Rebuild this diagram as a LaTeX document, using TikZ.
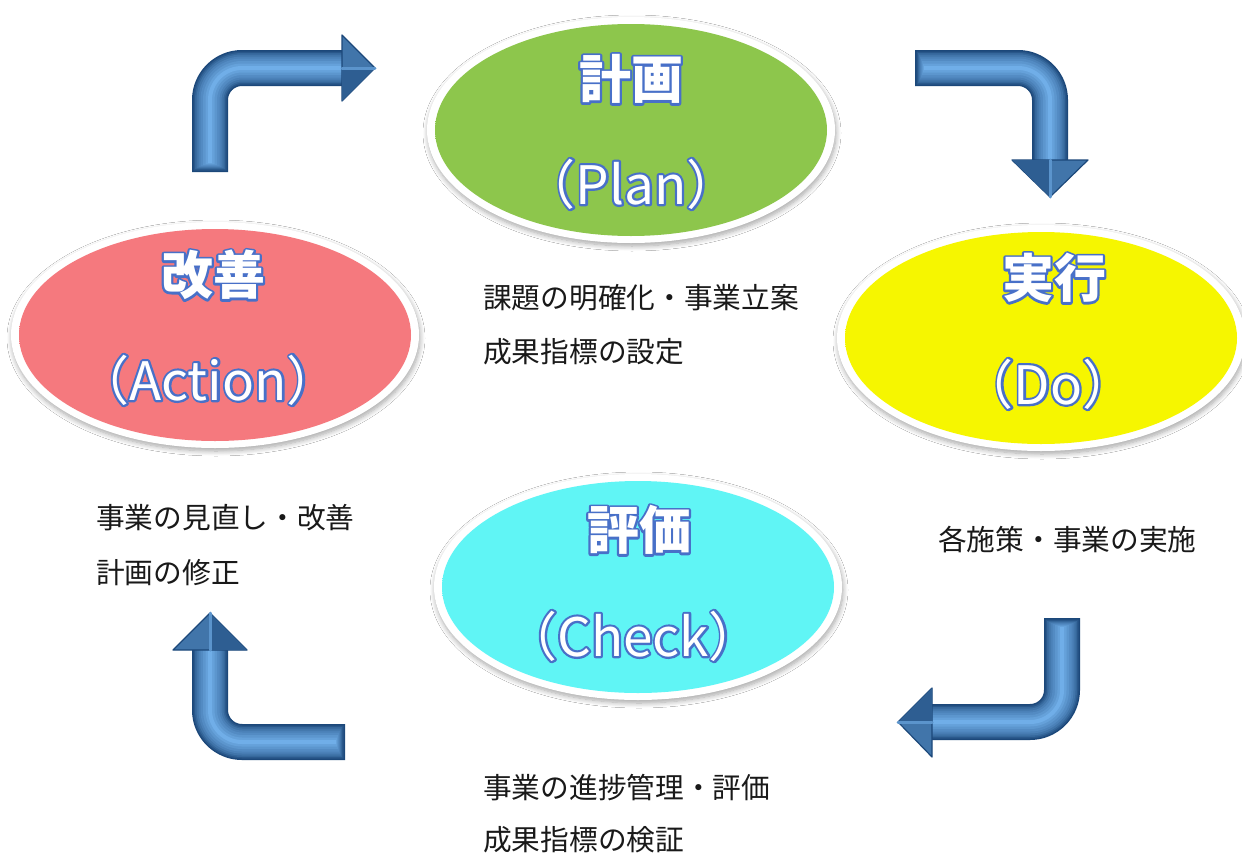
\documentclass[tikz,border=0pt]{standalone}
\usepackage{fontspec}
\usetikzlibrary{shapes.geometric,shadows.blur}
\newfontfamily\jpfont{Noto Sans CJK JP}
\definecolor{plang}{RGB}{141,198,76}
\definecolor{plangd}{RGB}{96,150,48}
\definecolor{doy}{RGB}{246,246,0}
\definecolor{doyd}{RGB}{190,182,0}
\definecolor{actp}{RGB}{245,121,126}
\definecolor{actpd}{RGB}{196,82,90}
\definecolor{chkc}{RGB}{96,245,245}
\definecolor{chkcd}{RGB}{56,188,200}
\definecolor{tD}{RGB}{28,72,122}
\definecolor{tL}{RGB}{112,174,232}
\definecolor{txt}{RGB}{25,25,25}
\pgfdeclareradialshading{shgreen}{\pgfpoint{0bp}{0bp}}{color(0bp)=(plang); color(43bp)=(plang); color(50bp)=(plangd)}
\pgfdeclareradialshading{shyellow}{\pgfpoint{0bp}{0bp}}{color(0bp)=(doy); color(43bp)=(doy); color(50bp)=(doyd)}
\pgfdeclareradialshading{shpink}{\pgfpoint{0bp}{0bp}}{color(0bp)=(actp); color(43bp)=(actp); color(50bp)=(actpd)}
\pgfdeclareradialshading{shcyan}{\pgfpoint{0bp}{0bp}}{color(0bp)=(chkc); color(43bp)=(chkc); color(50bp)=(chkcd)}
% white text with a blue outline: a stroked copy (render mode 1) under the white text
\newcommand\olt[1]{\leavevmode\rlap{\special{pdf:code q 1 Tr 4.4 w 1 j 0.282 0.439 0.784 RG}#1\special{pdf:code Q}}{\color{white}#1}}
\tikzset{
  ring/.style={ellipse, fill=white, inner sep=0pt, minimum width=408pt, minimum height=226pt,
    blur shadow={shadow xshift=1pt, shadow yshift=-3pt, shadow blur steps=8, shadow opacity=35, shadow blur radius=5pt}},
  ell/.style={ellipse, inner sep=0pt, minimum width=392pt, minimum height=212pt},
  ttl/.style={inner sep=0pt, font=\jpfont\bfseries\fontsize{52pt}{56pt}\selectfont},
  sub/.style={inner sep=0pt, font=\jpfont\fontsize{53pt}{56pt}\selectfont},
  desc/.style={inner sep=0pt, anchor=west, text=txt, font=\jpfont\fontsize{28.7pt}{32pt}\selectfont},
  tube/.style={rounded corners=32pt, line join=round},
  t1/.style={tube, line width=36pt, draw=tD},
  t2/.style={tube, line width=33pt, draw=tL!15!tD, shorten <=1.5pt},
  t3/.style={tube, line width=30pt, draw=tL!30!tD, shorten <=3pt},
  t4/.style={tube, line width=27pt, draw=tL!44!tD, shorten <=4pt},
  t5/.style={tube, line width=23pt, draw=tL!56!tD, shorten <=5pt},
  t6/.style={tube, line width=19pt, draw=tL!66!tD, shorten <=6pt},
  t7/.style={tube, line width=14pt, draw=tL!76!tD, shorten <=7pt},
  t8/.style={tube, line width=9pt, draw=tL!87!tD, shorten <=8pt},
  t9/.style={tube, line width=4pt, draw=tL, shorten <=9pt},
  headmn/.style={fill=tL!44!tD, draw=tD, line width=1.2pt, line join=round},
  headdk/.style={fill=tL!22!tD},
  headhi/.style={draw=tL!75!tD, line width=3pt, line cap=round},
}
\newcommand\tubepath[1]{\draw[t1] #1; \draw[t2] #1; \draw[t3] #1; \draw[t4] #1; \draw[t5] #1; \draw[t6] #1; \draw[t7] #1; \draw[t8] #1; \draw[t9] #1;}
\begin{document}
\begin{tikzpicture}[x=1pt,y=-1pt]
\fill[white] (0,0) rectangle (1242,854);
\useasboundingbox (0,0) rectangle (1242,854);

% ellipses
\node[ring] (plan-ring) at (631,130) {};
\node[ell, shading=shgreen] (plan) at (631,130) {};
\node[ring] (do-ring) at (1041,338) {};
\node[ell, shading=shyellow] (do) at (1041,338) {};
\node[ring] (act-ring) at (215,335) {};
\node[ell, shading=shpink] (act) at (215,335) {};
\node[ring] (chk-ring) at (638,587) {};
\node[ell, shading=shcyan] (chk) at (638,587) {};

% titles
\node[ttl] (plan-t) at (631,79) {\olt{計画}};
\node[sub] (plan-s) at (631,184) {\olt{（Plan）}};
\node[ttl] (do-t) at (1054,278) {\olt{実行}};
\node[sub] (do-s) at (1048,384) {\olt{（Do）}};
\node[ttl] (act-t) at (213,275) {\olt{改善}};
\node[sub] (act-s) at (208,380) {\olt{（Action）}};
\node[ttl] (chk-t) at (639,530) {\olt{評価}};
\node[sub] (chk-s) at (633,636) {\olt{（Check）}};

% descriptions
\node[desc] (pd1) at (483,298) {課題の明確化・事業立案};
\node[desc] (pd2) at (483,352) {成果指標の設定};
\node[desc] (ad1) at (96,518) {事業の見直し・改善};
\node[desc] (ad2) at (96,573) {計画の修正};
\node[desc] (dd1) at (938,540) {各施策・事業の実施};
\node[desc] (cd1) at (483,788) {事業の進捗管理・評価};
\node[desc] (cd2) at (483,840) {成果指標の検証};

% arrow 1 (Action -> Plan)
\coordinate (a1s) at (210,172); \coordinate (a1c) at (210,68); \coordinate (a1e) at (344,68);
\coordinate (a1h1) at (342,35); \coordinate (a1t) at (375,68); \coordinate (a1h2) at (342,101); \coordinate (a1m) at (342,68);
\tubepath{(a1s) -- (a1c) -- (a1e)}
\path[headmn] (a1h1) -- (a1t) -- (a1h2) -- cycle;
\fill[headdk] (a1m) -- (a1t) -- (a1h2) -- cycle;
\draw[headhi] (a1m) -- (a1t);

% arrow 2 (Plan -> Do)
\coordinate (a2s) at (915,68); \coordinate (a2c) at (1050,68); \coordinate (a2e) at (1050,162);
\coordinate (a2h1) at (1012,160); \coordinate (a2t) at (1050,197); \coordinate (a2h2) at (1088,160); \coordinate (a2m) at (1050,160);
\tubepath{(a2s) -- (a2c) -- (a2e)}
\path[headmn] (a2h1) -- (a2t) -- (a2h2) -- cycle;
\fill[headdk] (a2h1) -- (a2t) -- (a2m) -- cycle;
\draw[headhi] (a2m) -- (a2t);

% arrow 3 (Do -> Check)
\coordinate (a3s) at (1062,618); \coordinate (a3c) at (1062,722); \coordinate (a3e) at (930,722);
\coordinate (a3h1) at (932,688); \coordinate (a3t) at (898,722); \coordinate (a3h2) at (932,757); \coordinate (a3m) at (932,722);
\tubepath{(a3s) -- (a3c) -- (a3e)}
\path[headmn] (a3h1) -- (a3t) -- (a3h2) -- cycle;
\fill[headdk] (a3h1) -- (a3t) -- (a3m) -- cycle;
\draw[headhi] (a3m) -- (a3t);

% arrow 4 (Check -> Action)
\coordinate (a4s) at (345,742); \coordinate (a4c) at (210,742); \coordinate (a4e) at (210,648);
\coordinate (a4h1) at (173,650); \coordinate (a4t) at (210,613); \coordinate (a4h2) at (247,650); \coordinate (a4m) at (210,650);
\tubepath{(a4s) -- (a4c) -- (a4e)}
\path[headmn] (a4h1) -- (a4t) -- (a4h2) -- cycle;
\fill[headdk] (a4m) -- (a4t) -- (a4h2) -- cycle;
\draw[headhi] (a4m) -- (a4t);
\end{tikzpicture}
\end{document}
